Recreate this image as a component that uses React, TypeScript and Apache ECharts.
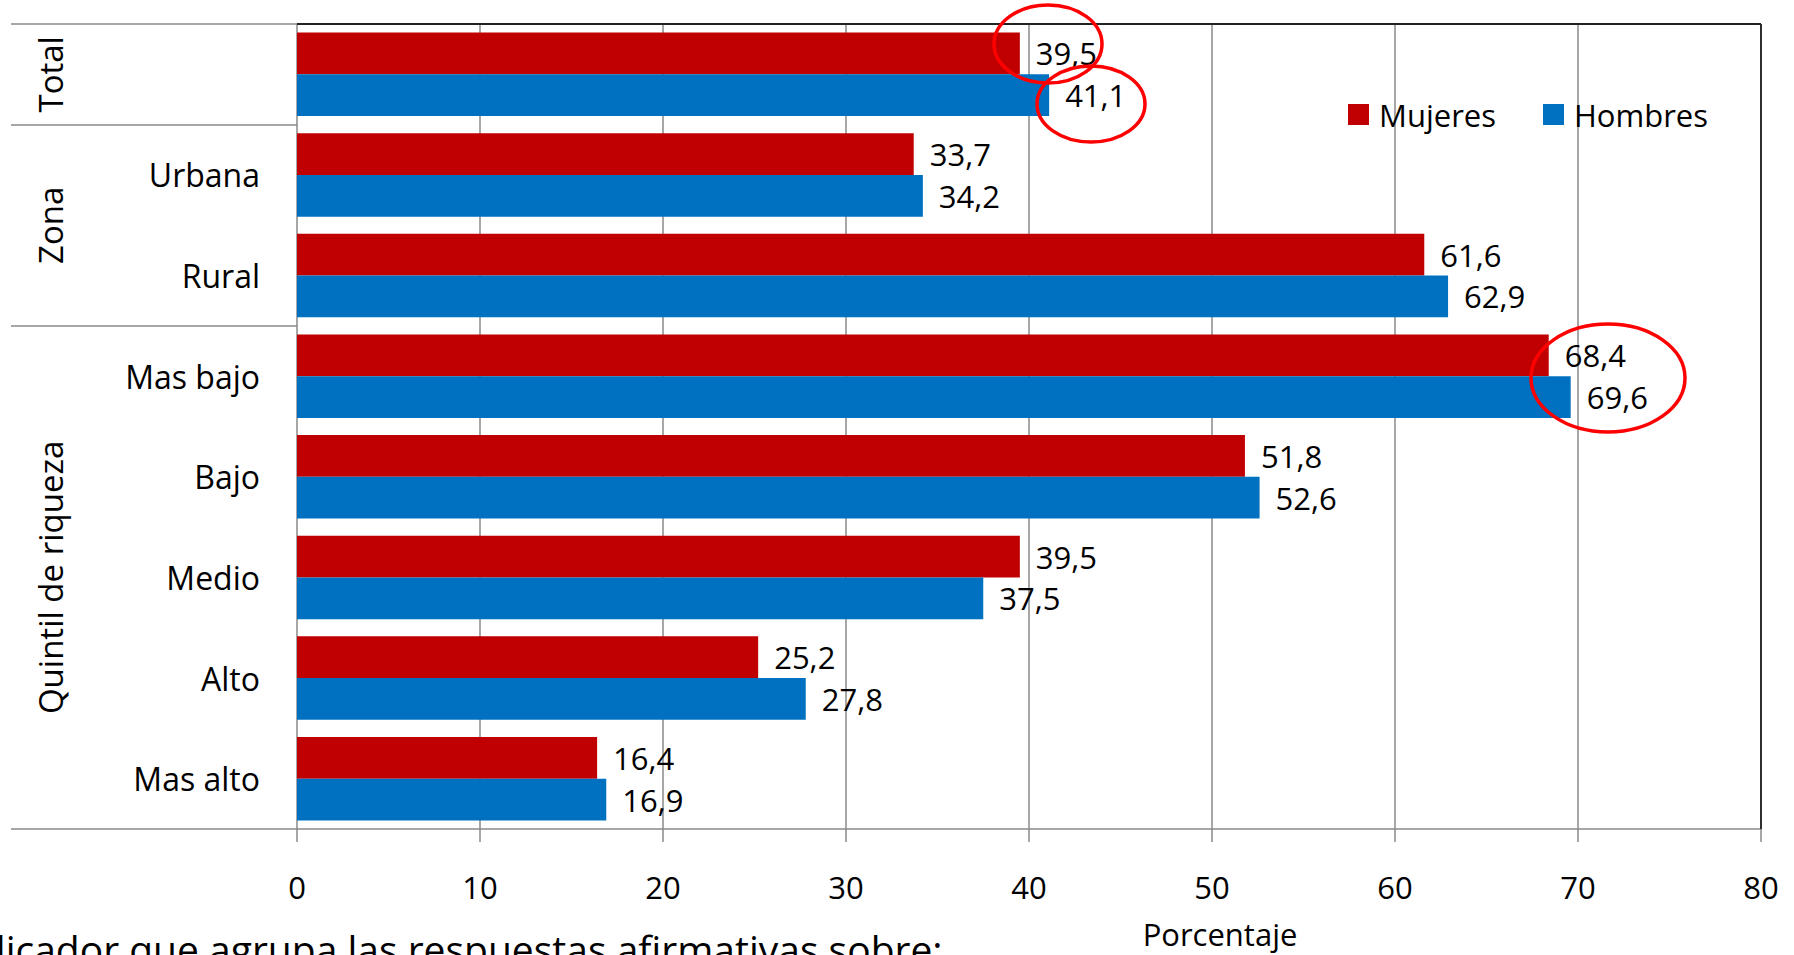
import React, { useEffect, useRef } from "react";
import * as echarts from "echarts";

const categories = ["Total", "Urbana", "Rural", "Mas bajo", "Bajo", "Medio", "Alto", "Mas alto"];
const mujeres = [39.5, 33.7, 61.6, 68.4, 51.8, 39.5, 25.2, 16.4];
const hombres = [41.1, 34.2, 62.9, 69.6, 52.6, 37.5, 27.8, 16.9];
const axisTicks = [0, 10, 20, 30, 40, 50, 60, 70, 80];
// groups: [label, first category index, last category index]
const groups: [string, number, number][] = [
  ["Total", 0, 0],
  ["Zona", 1, 2],
  ["Quintil de riqueza", 3, 7],
];
const seriesNames = ["Mujeres", "Hombres"];
const colors = ["#C00000", "#0070C0"];
const axisTitle = "Porcentaje";
const footnote = "Indicador que agrupa las respuestas afirmativas sobre:";

const FONT = "'Open Sans', 'Noto Sans', sans-serif";
const GRAY = "#8a8a8a";

export default function App() {
  const ref = useRef<HTMLDivElement>(null);
  useEffect(() => {
    if (!ref.current) return;
    const chart = echarts.init(ref.current, null, { renderer: "svg" });
    const fmt = (p: any) => String(p.value).replace(".", ",");
    const gridLeft = 297;
    const gridTop = 24;
    const gridRight = 33;
    const gridBottom = 126;
    chart.setOption({
      animation: false,
      textStyle: { fontFamily: FONT },
      grid: { left: gridLeft, right: gridRight, top: gridTop, bottom: gridBottom, containLabel: false },
      legend: {
        data: seriesNames,
        left: 1343,
        top: 94,
        icon: "rect",
        itemWidth: 21,
        itemHeight: 21,
        itemGap: 47,
        textStyle: { fontSize: 31, color: "#000", fontFamily: FONT, padding: [0, 0, 0, 5] },
      },
      xAxis: {
        type: "value",
        min: axisTicks[0],
        max: axisTicks[axisTicks.length - 1],
        interval: 10,
        axisLine: { show: true, lineStyle: { color: GRAY, width: 1.5 } },
        axisTick: { show: true, inside: false, length: 13, lineStyle: { color: GRAY, width: 1.5 } },
        splitLine: { show: true, lineStyle: { color: GRAY, width: 1.5 } },
        axisLabel: { fontSize: 31, color: "#000", margin: 42, fontFamily: FONT },
      },
      yAxis: {
        type: "category",
        data: categories,
        inverse: true,
        axisLine: { show: false },
        axisTick: { show: false },
        splitLine: { show: false },
        axisLabel: {
          fontSize: 32,
          color: "#000",
          margin: 37,
          fontFamily: FONT,
          // the single-category group shows its name only in the rotated group label
          formatter: (v: string, i: number) => (groups.some(([g, a, b]) => a === b && a === i) ? "" : v),
        },
      },
      series: [
        {
          name: seriesNames[0],
          type: "bar",
          data: mujeres,
          itemStyle: { color: colors[0] },
          barGap: "0%",
          barCategoryGap: "17%",
          label: { show: true, position: "right", distance: 16, formatter: fmt, fontSize: 31, color: "#000", fontFamily: FONT },
        },
        {
          name: seriesNames[1],
          type: "bar",
          data: hombres,
          itemStyle: { color: colors[1] },
          barGap: "0%",
          barCategoryGap: "17%",
          label: { show: true, position: "right", distance: 16, formatter: fmt, fontSize: 31, color: "#000", fontFamily: FONT },
        },
      ],
    });

    // compute group boundaries through the axis scale
    const yOf = (i: number) => chart.convertToPixel({ yAxisIndex: 0 }, categories[i]) as number;
    const band = yOf(1) - yOf(0);
    const plotRight = 1794 - gridRight;
    const plotBottom = 955 - gridBottom;
    const elements: any[] = [];
    const bounds = new Set<number>();
    groups.forEach(([name, a, b]) => {
      const top = yOf(a) - band / 2;
      const bottom = yOf(b) + band / 2;
      bounds.add(Math.round(top));
      bounds.add(Math.round(bottom));
      elements.push({
        type: "text",
        x: 50,
        y: (top + bottom) / 2,
        rotation: Math.PI / 2,
        style: { text: name, fontSize: 33, fontFamily: FONT, fill: "#000", align: "center", verticalAlign: "middle" },
      });
    });
    bounds.forEach((y) => {
      elements.push({
        type: "line",
        shape: { x1: 11, y1: y, x2: gridLeft, y2: y },
        style: { stroke: GRAY, lineWidth: 1.5 },
      });
    });
    // plot border: top and right in dark
    elements.push({
      type: "line",
      shape: { x1: gridLeft, y1: gridTop, x2: plotRight, y2: gridTop },
      style: { stroke: "#222", lineWidth: 1.8 },
      z: 10,
    });
    elements.push({
      type: "line",
      shape: { x1: plotRight, y1: gridTop, x2: plotRight, y2: plotBottom },
      style: { stroke: "#222", lineWidth: 1.8 },
      z: 10,
    });
    // axis title
    elements.push({
      type: "text",
      x: 1220,
      y: 934,
      style: { text: axisTitle, fontSize: 31, fontFamily: FONT, fill: "#000", align: "center", verticalAlign: "middle" },
    });
    // footnote, cut by the page edges
    elements.push({
      type: "text",
      x: -53,
      y: 948,
      style: { text: footnote, fontSize: 39, fontFamily: FONT, fill: "#000", align: "left", verticalAlign: "middle" },
    });
    // hand-drawn red annotation ellipses
    const ell = (cx: number, cy: number, rx: number, ry: number) => ({
      type: "ellipse",
      shape: { cx, cy, rx, ry },
      style: { fill: "none", stroke: "#FF0000", lineWidth: 3.5 },
      z: 20,
    });
    elements.push(ell(1048, 44, 54, 39));
    elements.push(ell(1091, 104, 54, 38));
    elements.push(ell(1608, 378, 77, 54));

    chart.setOption({ graphic: { elements } });
    return () => chart.dispose();
  }, []);
  return (
    <div
      ref={ref}
      style={{ position: "absolute", left: 0, top: 0, width: 1794, height: 955, background: "#fff" }}
    />
  );
}
